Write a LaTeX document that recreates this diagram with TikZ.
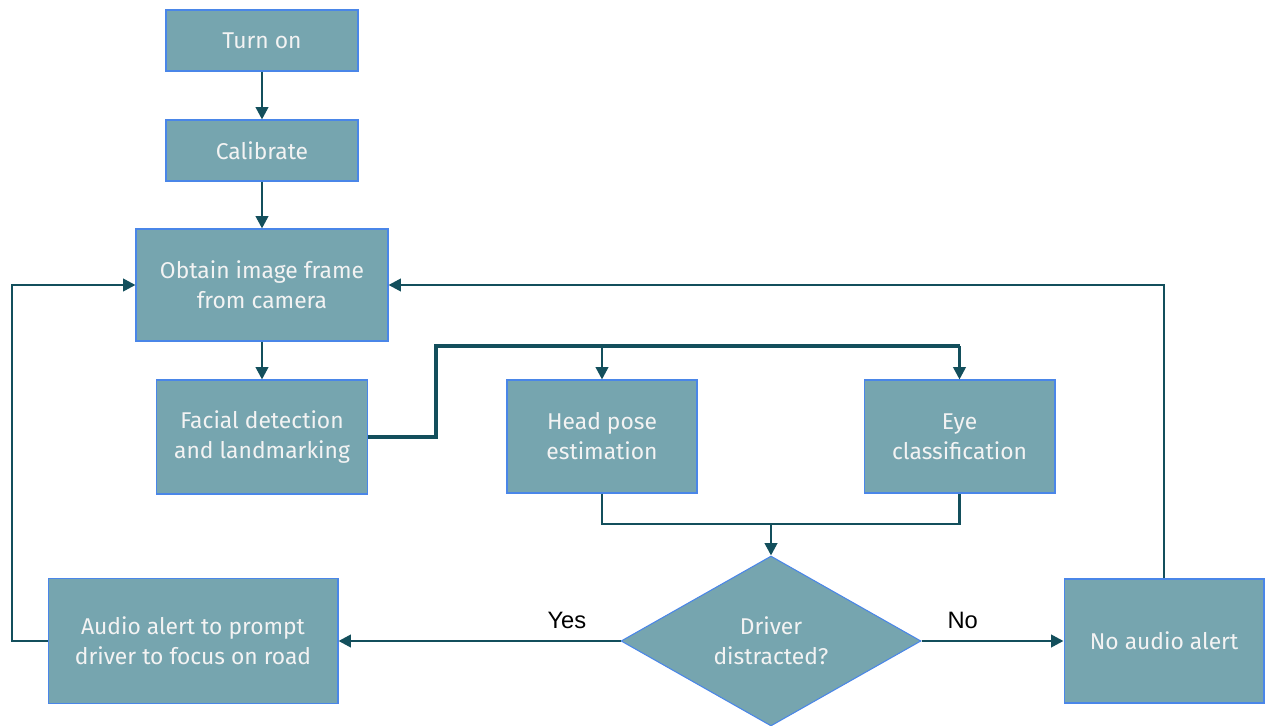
\documentclass[tikz,border=0pt]{standalone}
\usepackage{fontspec}
\setmainfont{Fira Sans}
\newfontfamily\labelfont{Liberation Sans}
\usetikzlibrary{arrows.meta,positioning,shapes.geometric,calc}
\definecolor{boxfill}{HTML}{76A5AF}
\definecolor{boxedge}{HTML}{4A86E8}
\definecolor{flow}{HTML}{134F5C}
\definecolor{boxtext}{HTML}{F3F3F3}

\begin{document}
\begin{tikzpicture}[x=0.02cm,y=-0.02cm,
      box/.style={draw=boxedge,fill=boxfill,text=boxtext,align=center,inner sep=0pt,line width=0.6pt,font=\fontsize{13}{17}\selectfont},
      decision/.style={box,diamond,minimum width=6cm,minimum height=3.4cm},
      link/.style={flow,line width=1.5pt},
      arr/.style={link,-{Triangle[length=7pt,width=7pt]}},
      yn/.style={font=\labelfont\fontsize{13.5}{15}\selectfont,text=black}
    ]
      \useasboundingbox (0,0) rectangle (1265,726);
      \node[box,minimum width=3.84cm,minimum height=1.22cm] (on) at (262,40.5) {Turn on};
      \node[box,minimum width=3.84cm,minimum height=1.22cm] (calib) at (262,150.5) {Calibrate};
      \node[box,minimum width=5.04cm,minimum height=2.24cm] (obtain) at (262,285) {Obtain image frame\\from camera};
      \node[box,minimum width=4.22cm,minimum height=2.28cm] (face) at (262,437) {Facial detection\\and landmarking};
      \node[box,minimum width=3.8cm,minimum height=2.26cm] (head) at (602,436.5) {Head pose\\estimation};
      \node[box,minimum width=3.82cm,minimum height=2.26cm] (eye) at (959.5,436.5) {Eye\\classification};
      \node[decision] (dec) at (771,641) {Driver\\distracted?};
      \node[box,minimum width=5.8cm,minimum height=2.5cm] (alert) at (193,641) {Audio alert to prompt\\driver to focus on road};
      \node[box,minimum width=4cm,minimum height=2.48cm] (noalert) at (1164,641) {No audio alert};
      \coordinate (split) at (436,346);
      \coordinate (join) at (771,524);
      \coordinate (lft) at (12,641);
      \draw[arr] (on) -- (calib);
      \draw[arr] (calib) -- (obtain);
      \draw[arr] (obtain) -- (face);
      \draw[link,line width=2.3pt] (face.east) -| (split) -- (split -| eye);
      \draw[arr] (split -| head) -- (head);
      \draw[arr] (split -| eye) -- (eye);
      \draw[link] (head.south) |- (join) -| (eye.south);
      \draw[arr] (join) -- (dec.north);
      \draw[arr] (dec.west) -- node[yn,pos=0.19,above=3pt] {Yes} (alert.east);
      \draw[arr] (dec.east) -- node[yn,pos=0.29,above=3pt] {No} (noalert.west);
      \draw[arr] (alert.west) -- (lft) |- (obtain.west);
      \draw[arr] (noalert.north) |- (obtain.east);
    \end{tikzpicture}
\end{document}
